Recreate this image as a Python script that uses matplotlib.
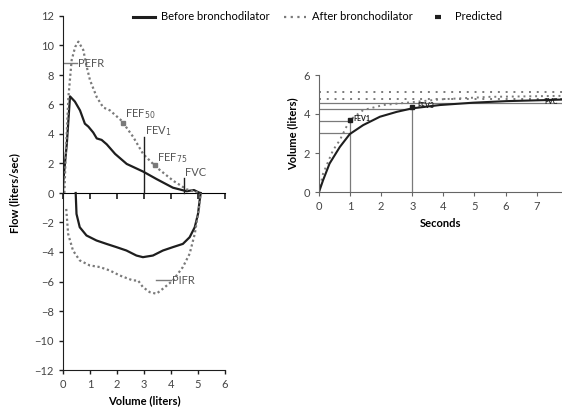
import matplotlib.pyplot as plt
from matplotlib.lines import Line2D

plt.rcParams['font.family'] = ['Lato', 'DejaVu Sans']

# flow-volume loop, before bronchodilator (expiration, then inspiration)
pre_exp_vol = [0.0, 0.01, 0.14, 0.26, 0.44, 0.63, 0.81, 0.94, 1.12, 1.25, 1.43, 1.62, 1.93, 2.36, 2.97, 3.47, 4.07, 4.58, 4.85, 5.07]
pre_exp_flow = [0.0, 0.8, 3.3, 6.55, 6.2, 5.6, 4.7, 4.5, 4.1, 3.7, 3.6, 3.3, 2.65, 1.97, 1.45, 0.94, 0.36, 0.12, 0.2, 0.0]
pre_insp_vol = [0.47, 0.5, 0.62, 0.87, 1.24, 1.61, 1.98, 2.35, 2.72, 2.96, 3.33, 3.7, 4.07, 4.44, 4.69, 4.88, 5.0, 5.06, 5.1]
pre_insp_flow = [0.0, -1.42, -2.32, -2.88, -3.22, -3.45, -3.67, -3.9, -4.24, -4.35, -4.24, -3.9, -3.67, -3.45, -3.0, -2.32, -1.42, -0.52, 0.0]

# flow-volume loop, after bronchodilator
post_exp_vol = [0.05, 0.1, 0.2, 0.32, 0.45, 0.57, 0.75, 0.88, 1.0, 1.25, 1.49, 1.74, 2.17, 2.6, 2.97, 3.47, 4.09, 4.58, 5.07]
post_exp_flow = [0.0, 2.5, 6.5, 9.0, 9.9, 10.26, 9.7, 8.55, 7.65, 6.5, 5.8, 5.6, 4.9, 3.8, 2.64, 1.73, 0.82, 0.25, 0.0]
post_insp_vol = [0.12, 0.19, 0.37, 0.62, 0.99, 1.36, 1.73, 2.1, 2.59, 2.78, 2.96, 3.21, 3.46, 3.7, 4.07, 4.44, 4.69, 4.88, 5.04, 5.1]
post_insp_flow = [-1.08, -2.77, -3.9, -4.57, -4.91, -5.02, -5.25, -5.59, -5.93, -5.93, -6.38, -6.72, -6.83, -6.49, -5.93, -5.02, -4.12, -2.77, -0.99, 0.0]

# volume-time curves
t_pre = [0, 0.13, 0.34, 0.67, 0.99, 1.42, 1.96, 2.5, 3.0, 3.89, 4.96, 6.03, 7.21, 7.8]
v_pre = [0, 0.6, 1.46, 2.31, 2.97, 3.43, 3.86, 4.11, 4.29, 4.46, 4.58, 4.66, 4.71, 4.74]
t_post = [0, 0.13, 0.45, 0.67, 0.88, 1.02, 1.42, 2.07, 2.82, 3.89, 5.5, 7.8]
v_post = [0, 0.94, 2.14, 2.66, 3.34, 3.72, 4.2, 4.46, 4.58, 4.75, 4.88, 4.93]

pred_dotted = [5.11, 4.77]
ref_levels = [4.58, 4.25, 3.63, 3.0]
ref_ends = [7.8, 3, 1, 1]

dark = '#1e1e1e'
grey = '#7a7a7a'
txt = '#555555'

fig = plt.figure(figsize=(5.62, 4.11), dpi=100)

# ---- left: flow-volume loop
ax = fig.add_axes([63 / 562, 1 - 370 / 411, 162 / 562, 354 / 411])
ax.plot(pre_exp_vol, pre_exp_flow, color=dark, lw=1.6)
ax.plot(pre_insp_vol, pre_insp_flow, color=dark, lw=1.6)
ax.plot(post_exp_vol, post_exp_flow, color=grey, lw=1.6, ls=(0, (1, 1.2)))
ax.plot(post_insp_vol, post_insp_flow, color=grey, lw=1.6, ls=(0, (1, 1.2)))

# PEFR / PIFR predicted marks
ax.plot([0, 0.5], [8.8, 8.8], color=grey, lw=1)
ax.text(0.55, 8.8, 'PEFR', fontsize=8, color=txt, va='center')
ax.plot([3.46, 4.0], [-5.9, -5.9], color=grey, lw=1)
ax.text(4.02, -5.9, 'PIFR', fontsize=8, color=txt, va='center')

ax.plot([2.21], [4.73], marker='s', ms=3, color=grey)
ax.text(2.3, 4.9, 'FEF$_{50}$', fontsize=8, color=txt, va='bottom')
ax.plot([3, 3], [0, 3.77], color=dark, lw=1)
ax.text(3.05, 3.7, 'FEV$_1$', fontsize=8, color=txt, va='bottom')
ax.plot([3.41], [1.89], marker='s', ms=3, color=grey)
ax.text(3.47, 1.9, 'FEF$_{75}$', fontsize=8, color=txt, va='bottom')
ax.plot([4.49, 4.49], [0, 1.05], color=dark, lw=1)
ax.text(4.5, 1.0, 'FVC', fontsize=8, color=txt, va='bottom')

ax.set_xlim(0, 6)
ax.set_ylim(-12, 12)
ax.set_yticks(range(-12, 13, 2))
ax.set_yticklabels([str(v).replace('-', '\u2212') for v in range(-12, 13, 2)])
ax.set_xticks(range(0, 7))
for s in ['top', 'right']:
    ax.spines[s].set_visible(False)
zero = ax.secondary_xaxis(0.5)
zero.set_xticks(range(0, 7))
zero.set_xticklabels([])
zero.tick_params(direction='in', length=4, width=1.2, color=dark)
zero.spines['bottom'].set_linewidth(1.5)
zero.spines['bottom'].set_color(dark)
ax.tick_params(labelsize=8, labelcolor='#444444', length=3, width=1, color=dark)
ax.spines['left'].set_color(dark)
ax.spines['bottom'].set_color(dark)
ax.set_xlabel('Volume (liters)', fontsize=8, fontweight='bold', labelpad=4)
ax.set_ylabel('Flow (liters/sec)', fontsize=8, fontweight='bold', labelpad=10)

# ---- right: volume-time
bx = fig.add_axes([319 / 562, 1 - 192 / 411, 242.5 / 562, 117 / 411])
for lvl in pred_dotted:
    bx.axhline(lvl, color=grey, lw=1.4, ls=(0, (1, 3)))
for lvl, end in zip(ref_levels, ref_ends):
    bx.plot([0, end], [lvl, lvl], color=grey, lw=0.9)
bx.plot([1, 1], [0, 3.7], color=grey, lw=0.9)
bx.plot([3, 3], [0, 4.3], color=grey, lw=0.9)
bx.plot(t_post, v_post, color=grey, lw=1.4, ls=(0, (1, 2)))
bx.plot(t_pre, v_pre, color=dark, lw=1.5)
bx.plot([1, 3], [3.7, 4.35], 's', ms=2.5, color=dark)
bx.text(1.1, 3.75, 'FEV1', fontsize=5, fontweight='bold', color=dark, va='center')
bx.text(3.15, 4.42, 'FEV3', fontsize=5, fontweight='bold', color=dark, va='center')
bx.text(7.25, 4.62, 'FVC', fontsize=5, fontweight='bold', color=dark, va='center')
bx.set_xlim(0, 7.8)
bx.set_ylim(0, 6)
bx.set_xticks(range(0, 8))
bx.set_yticks([0, 2, 4, 6])
for s in ['top', 'right']:
    bx.spines[s].set_visible(False)
bx.spines['left'].set_color('#666666')
bx.spines['bottom'].set_color('#666666')
bx.tick_params(labelsize=8, labelcolor='#444444', length=3, color='#666666')
bx.set_xlabel('Seconds', fontsize=8, fontweight='bold', labelpad=4)
bx.set_ylabel('Volume (liters)', fontsize=8, fontweight='bold', labelpad=4)

handles = [
    Line2D([], [], color=dark, lw=2.2),
    Line2D([], [], color=grey, lw=1.6, ls=(0, (1, 2))),
    Line2D([], [], color=dark, marker='_', ms=5, mew=3, ls='none'),
]
fig.legend(handles, ['Before bronchodilator', 'After bronchodilator', 'Predicted'],
           loc='center left', bbox_to_anchor=(133 / 562, 1 - 17 / 411), ncol=3,
           frameon=False, fontsize=8, handlelength=2, handletextpad=0.5,
           columnspacing=1.3, borderaxespad=0, borderpad=0)

fig.savefig('out.png', dpi=100)
